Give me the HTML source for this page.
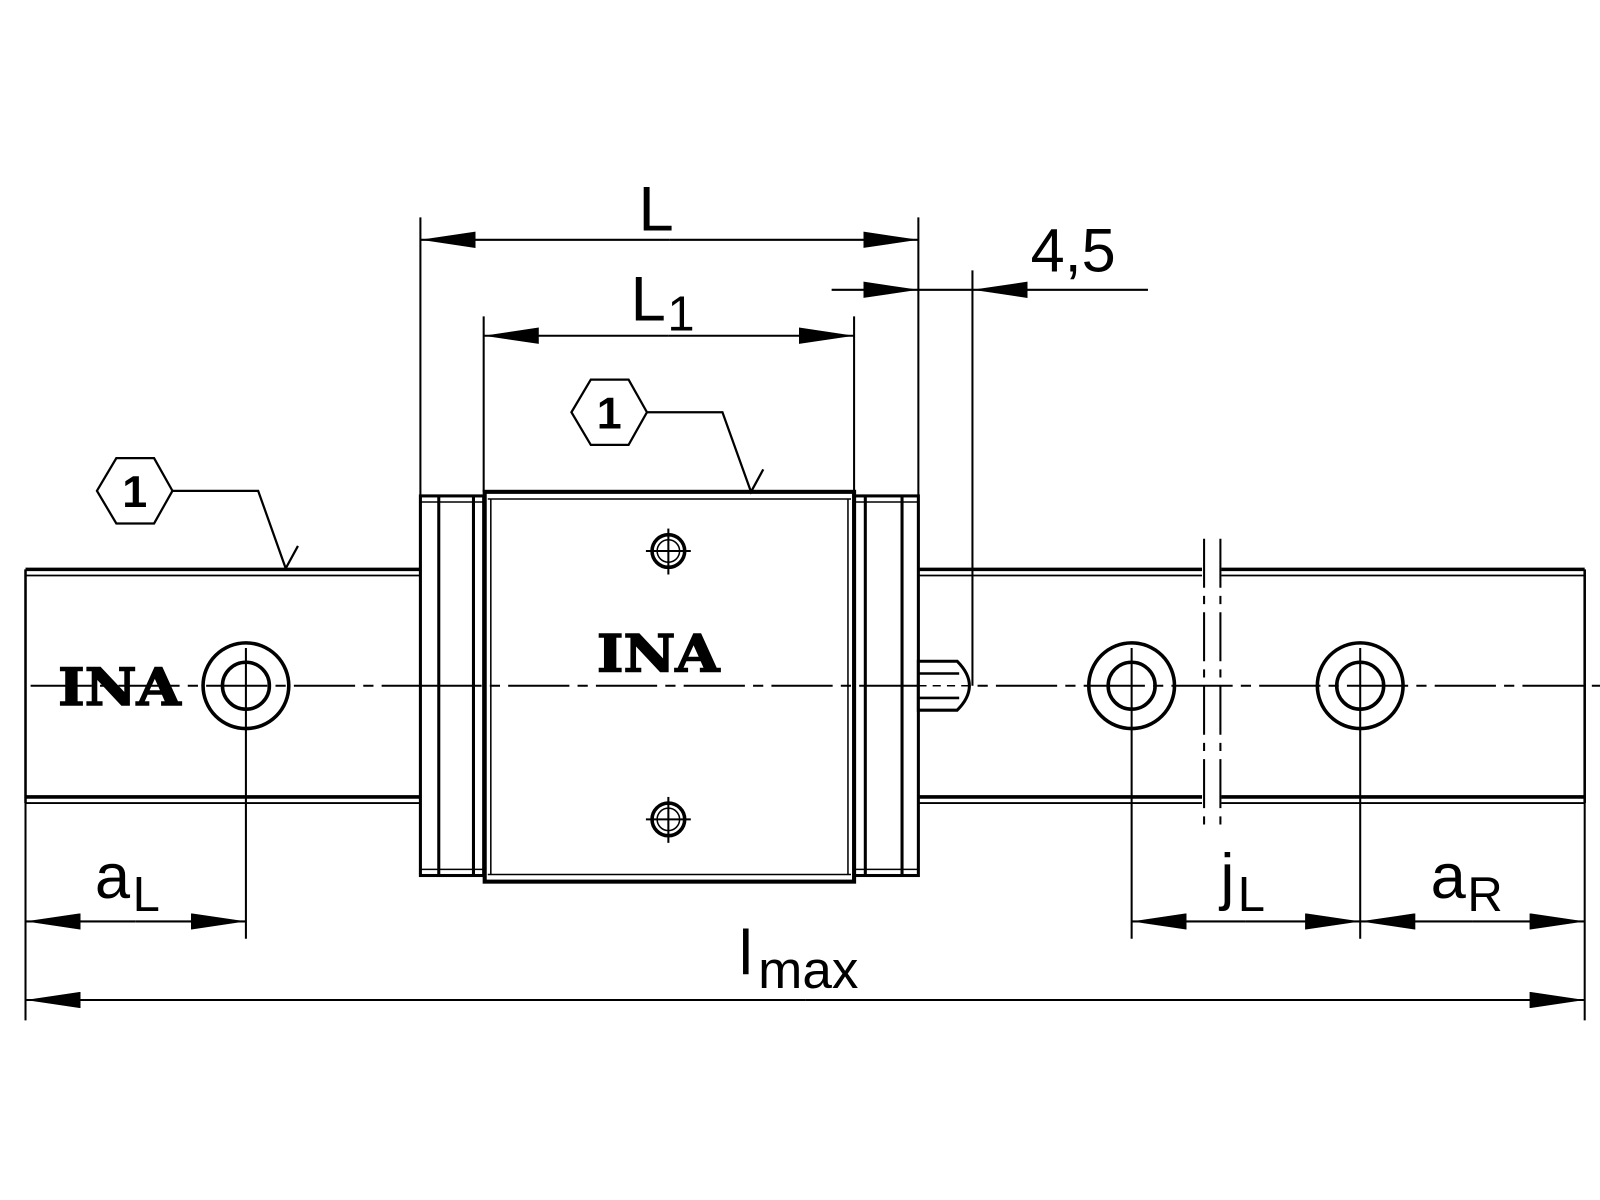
<!DOCTYPE html>
<html><head><meta charset="utf-8"><style>
html,body{margin:0;padding:0;background:#fff;}
svg{display:block;}
text{font-family:"Liberation Sans",sans-serif;fill:#000;}
</style></head><body>
<svg width="1600" height="1200" viewBox="0 0 1568 1176" xmlns="http://www.w3.org/2000/svg">
<defs>
<marker id="a" viewBox="0 0 54 16" refX="54" refY="8" markerWidth="54" markerHeight="16" markerUnits="userSpaceOnUse" orient="auto">
<path d="M0,0 L54,8 L0,16 Z" fill="#000"/></marker>
</defs>
<g stroke="#000" fill="none">
<line x1="30" y1="672" x2="1568" y2="672" stroke-width="2" stroke-dasharray="60,8,10,8"/>
<g stroke-width="3.5">
<line x1="25" y1="558" x2="412" y2="558"/><line x1="25" y1="564" x2="412" y2="564" stroke-width="1.8"/>
<line x1="25" y1="781" x2="412" y2="781"/><line x1="25" y1="787" x2="412" y2="787" stroke-width="1.8"/>
<line x1="900" y1="558" x2="1178" y2="558"/><line x1="900" y1="564" x2="1178" y2="564" stroke-width="1.8"/>
<line x1="900" y1="781" x2="1178" y2="781"/><line x1="900" y1="787" x2="1178" y2="787" stroke-width="1.8"/>
<line x1="1197" y1="558" x2="1553" y2="558"/><line x1="1197" y1="564" x2="1553" y2="564" stroke-width="1.8"/>
<line x1="1197" y1="781" x2="1553" y2="781"/><line x1="1197" y1="787" x2="1553" y2="787" stroke-width="1.8"/>
<line x1="25" y1="558" x2="25" y2="787" stroke-width="2.5"/>
<line x1="1553" y1="558" x2="1553" y2="787" stroke-width="2.5"/>
</g>
<line x1="1180" y1="528" x2="1180" y2="812" stroke-width="2" stroke-dasharray="48,8,8,8"/>
<line x1="1196" y1="528" x2="1196" y2="812" stroke-width="2" stroke-dasharray="48,8,8,8"/>
<g stroke-width="3.5">
<circle cx="241" cy="672" r="42"/><circle cx="241" cy="672" r="23"/>
<circle cx="1109" cy="672" r="42"/><circle cx="1109" cy="672" r="23"/>
<circle cx="1333" cy="672" r="42"/><circle cx="1333" cy="672" r="23"/>
</g>
<g stroke-width="2">
<line x1="241" y1="635" x2="241" y2="920"/><line x1="1109" y1="635" x2="1109" y2="920"/><line x1="1333" y1="635" x2="1333" y2="920"/>
<line x1="25" y1="787" x2="25" y2="1000"/><line x1="1553" y1="787" x2="1553" y2="1000"/>
</g>
<g stroke-width="3">
<rect x="412" y="486" width="62" height="372" fill="#fff"/>
<line x1="430" y1="486" x2="430" y2="858"/><line x1="464" y1="486" x2="464" y2="858"/>
<line x1="412" y1="492" x2="474" y2="492" stroke-width="1.5"/><line x1="412" y1="852" x2="474" y2="852" stroke-width="1.5"/>
<rect x="837" y="486" width="63" height="372" fill="#fff"/>
<line x1="848" y1="486" x2="848" y2="858"/><line x1="884" y1="486" x2="884" y2="858"/>
<line x1="837" y1="492" x2="900" y2="492" stroke-width="1.5"/><line x1="837" y1="852" x2="900" y2="852" stroke-width="1.5"/>
<rect x="475" y="482" width="362" height="382" fill="#fff" stroke-width="4"/>
<line x1="478" y1="489" x2="834" y2="489" stroke-width="1.5"/>
<line x1="478" y1="857" x2="834" y2="857" stroke-width="1.5"/>
<line x1="481" y1="489" x2="481" y2="857" stroke-width="1.5"/>
<line x1="831" y1="489" x2="831" y2="857" stroke-width="1.5"/>
</g>
<line x1="412" y1="672" x2="900" y2="672" stroke-width="2" stroke-dasharray="60,8,10,8"/>
<path d="M900,648 L938,648 Q950,660 950,672 Q950,684 938,696 L900,696 Z" stroke-width="3" fill="#fff"/>
<line x1="900" y1="660" x2="940" y2="660" stroke-width="2.5"/><line x1="900" y1="684" x2="940" y2="684" stroke-width="2.5"/>
<line x1="900" y1="672" x2="950" y2="672" stroke-width="1.5" stroke-dasharray="8,6"/>
<g stroke-width="3.5">
<circle cx="655" cy="540" r="16"/><circle cx="655" cy="540" r="11" stroke-width="1.5"/>
<circle cx="655" cy="803" r="16"/><circle cx="655" cy="803" r="11" stroke-width="1.5"/>
</g>
<g stroke-width="2">
<line x1="633" y1="540" x2="677" y2="540"/><line x1="655" y1="518" x2="655" y2="563"/>
<line x1="633" y1="803" x2="677" y2="803"/><line x1="655" y1="781" x2="655" y2="826"/>
</g>
<g stroke-width="2">
<line x1="412" y1="213" x2="412" y2="486"/><line x1="900" y1="213" x2="900" y2="486"/>
<line x1="474" y1="310" x2="474" y2="482"/><line x1="837" y1="310" x2="837" y2="482"/>
<line x1="953" y1="265" x2="953" y2="672"/>
</g>
<g stroke-width="2">
<line x1="656" y1="235" x2="412" y2="235" marker-end="url(#a)"/>
<line x1="656" y1="235" x2="900" y2="235" marker-end="url(#a)"/>
<line x1="655" y1="329" x2="474" y2="329" marker-end="url(#a)"/>
<line x1="655" y1="329" x2="837" y2="329" marker-end="url(#a)"/>
<line x1="815" y1="284" x2="900" y2="284" marker-end="url(#a)"/>
<line x1="1125" y1="284" x2="953" y2="284" marker-end="url(#a)"/>
<line x1="900" y1="284" x2="953" y2="284"/>
<line x1="133" y1="903" x2="25" y2="903" marker-end="url(#a)"/>
<line x1="133" y1="903" x2="241" y2="903" marker-end="url(#a)"/>
<line x1="1221" y1="903" x2="1109" y2="903" marker-end="url(#a)"/>
<line x1="1221" y1="903" x2="1333" y2="903" marker-end="url(#a)"/>
<line x1="1443" y1="903" x2="1333" y2="903" marker-end="url(#a)"/>
<line x1="1443" y1="903" x2="1553" y2="903" marker-end="url(#a)"/>
<line x1="789" y1="980" x2="25" y2="980" marker-end="url(#a)"/>
<line x1="789" y1="980" x2="1553" y2="980" marker-end="url(#a)"/>
</g>
<g stroke-width="2.2">
<polygon points="560,404 579,372 616,372 634,404 616,436 579,436" fill="#fff"/>
<polyline points="634,404 708,404 736,482 748,460"/>
<polygon points="95,481 114,449 151,449 169,481 151,513 114,513" fill="#fff"/>
<polyline points="169,481 253,481 280,557 292,535"/>
</g>
</g>
<text x="597" y="420" font-size="44" text-anchor="middle" font-weight="bold">1</text>
<text x="132" y="497" font-size="44" text-anchor="middle" font-weight="bold">1</text>
<text x="643" y="226" font-size="62" text-anchor="middle">L</text>
<text x="618" y="314" font-size="62">L</text><text x="654" y="324" font-size="48">1</text>
<text x="1010" y="266" font-size="60">4,5</text>
<text x="93" y="880" font-size="62">a</text><text x="130" y="893" font-size="48">L</text>
<text x="1196" y="880" font-size="62">j</text><text x="1213" y="893" font-size="48">L</text>
<text x="1402" y="880" font-size="62">a</text><text x="1438" y="893" font-size="48">R</text>
<text x="724" y="955" font-size="62">l</text><text x="743" y="968" font-size="52">max</text>
<text x="645" y="658" font-size="50" font-weight="bold" text-anchor="middle" textLength="120" lengthAdjust="spacingAndGlyphs" style="font-family:'DejaVu Serif',serif;stroke:#000;stroke-width:1.5">INA</text>
<text x="117" y="691" font-size="50" font-weight="bold" text-anchor="middle" textLength="120" lengthAdjust="spacingAndGlyphs" style="font-family:'DejaVu Serif',serif;stroke:#000;stroke-width:1.5">INA</text>
</svg>
</body></html>
